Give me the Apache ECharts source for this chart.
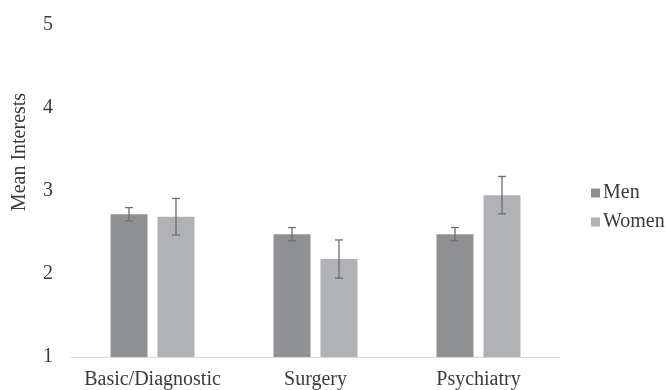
<!DOCTYPE html>
<html><head><meta charset="utf-8">
<script src="https://cdn.jsdelivr.net/npm/echarts@6/dist/echarts.min.js"></script>
<style>html,body{margin:0;padding:0;background:#fff}#c{width:666px;height:390px}</style>
</head><body><div id="c"></div>
<script>
const categories = ['Basic/Diagnostic', 'Surgery', 'Psychiatry'];
const menMeans = [2.72, 2.48, 2.48];
const menErr = [0.08, 0.08, 0.08];
const womenMeans = [2.69, 2.18, 2.95];
const womenErr = [0.22, 0.23, 0.225];
const yTicks = [1, 2, 3, 4, 5];

const chart = echarts.init(document.getElementById('c'));
const font = 'Liberation Serif, Times New Roman, serif';
const txt = '#3a3a3a';

function errSeries(means, errs, idx) {
  const data = means.map((m, i) => [i, m - errs[i], m + errs[i]]);
  return {
    type: 'custom',
    name: 'err' + idx,
    silent: true,
    z: 10,
    renderItem: function (params, api) {
      const i = api.value(0);
      const lo = api.coord([i, api.value(1)]);
      const hi = api.coord([i, api.value(2)]);
      const offset = (idx === 0 ? -1 : 1) * 23.5;
      const x = lo[0] + offset;
      const cap = 4;
      const style = { stroke: '#6e6e72', lineWidth: 1.3 };
      return {
        type: 'group',
        children: [
          { type: 'line', shape: { x1: x, y1: lo[1], x2: x, y2: hi[1] }, style },
          { type: 'line', shape: { x1: x - cap, y1: lo[1], x2: x + cap, y2: lo[1] }, style },
          { type: 'line', shape: { x1: x - cap, y1: hi[1], x2: x + cap, y2: hi[1] }, style }
        ]
      };
    },
    data: data
  };
}

chart.setOption({
  animation: false,
  backgroundColor: '#fff',
  grid: { left: 71, right: 106, top: 25, bottom: 31 },
  legend: {
    orient: 'vertical',
    left: 586, top: 178,
    itemWidth: 9, itemHeight: 9, itemGap: 9,
    icon: 'rect',
    data: ['Men', 'Women'],
    textStyle: { fontFamily: font, fontSize: 20, color: txt, padding: [0, 0, 0, -2] }
  },
  xAxis: {
    type: 'category',
    data: categories,
    axisLine: { lineStyle: { color: '#d9d9d9', width: 1 } },
    axisTick: { show: false },
    axisLabel: { fontFamily: font, fontSize: 20, color: txt, margin: 13, interval: 0 }
  },
  yAxis: {
    type: 'value',
    min: 1, max: 5, interval: 1,
    name: 'Mean Interests',
    nameLocation: 'middle',
    nameGap: 41,
    nameTextStyle: { fontFamily: font, fontSize: 20, color: txt, padding: [0, 0, 0, 78] },
    axisLine: { show: false },
    axisTick: { show: false },
    splitLine: { show: false },
    axisLabel: { fontFamily: font, fontSize: 20, color: txt, margin: 18,
      formatter: v => yTicks.includes(v) ? String(v) : '' }
  },
  series: [
    { name: 'Men', type: 'bar', data: menMeans, barWidth: 37, barGap: '27%',
      itemStyle: { color: '#8f9094' } },
    { name: 'Women', type: 'bar', data: womenMeans, barWidth: 37,
      itemStyle: { color: '#b1b2b6' } },
    errSeries(menMeans, menErr, 0),
    errSeries(womenMeans, womenErr, 1)
  ]
});
</script></body></html>
